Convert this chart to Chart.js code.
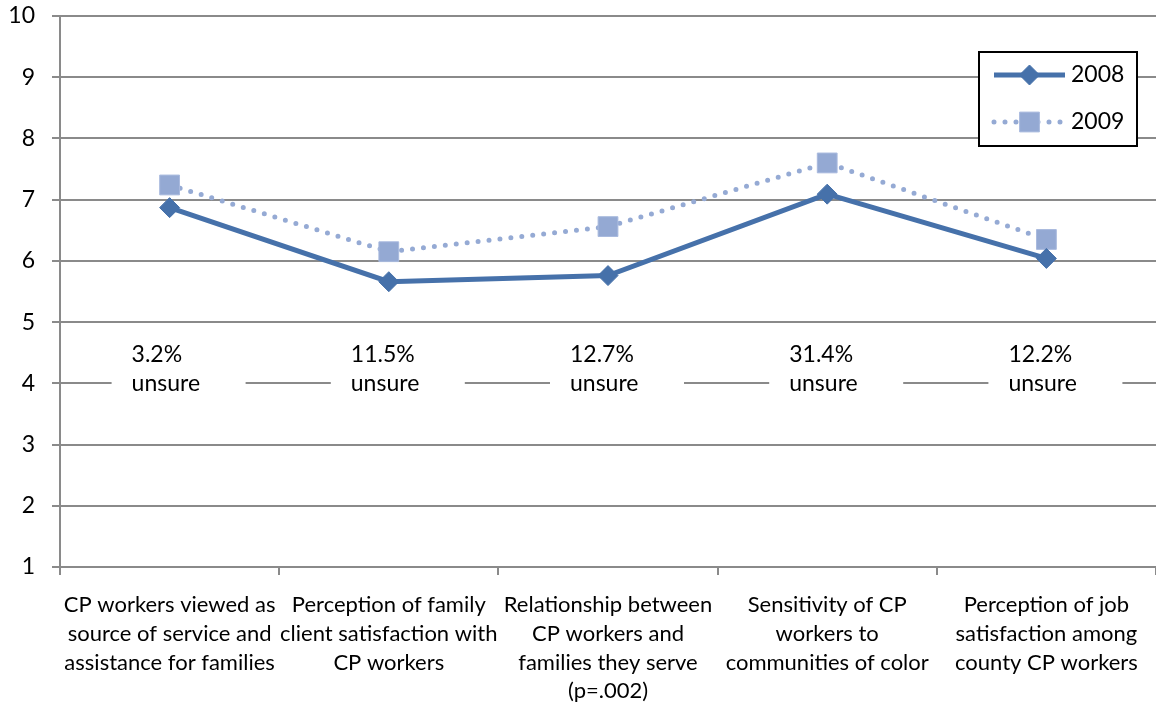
<!DOCTYPE html>
<html>
<head>
<meta charset="utf-8">
<script src="https://cdn.jsdelivr.net/npm/chart.js@4"></script>
<style>
html, body { margin: 0; padding: 0; background: #fff; }
</style>
</head>
<body>
<canvas id="chart" width="1156" height="706"></canvas>
<script>
// Chart data
const categories = [
    ["CP workers viewed as", "source of service and", "assistance for families"],
    ["Perception of family", "client satisfaction with", "CP workers"],
    ["Relationship between", "CP workers and", "families they serve", "(p=.002)"],
    ["Sensitivity of CP", "workers to", "communities of color"],
    ["Perception of job", "satisfaction among", "county CP workers"]
];
const seriesNames = ["2008", "2009"];
const values2008 = [6.87, 5.66, 5.76, 7.09, 6.04];
const values2009 = [7.24, 6.15, 6.56, 7.60, 6.35];
const unsurePct = ["3.2%", "11.5%", "12.7%", "31.4%", "12.2%"];
const unsureText = "unsure";
const yMin = 1, yMax = 10;

const fontName = "Lato, 'Open Sans', sans-serif";
const gridColor = "#8a8a8a";
const color2008 = "#4671aa";
const color2009 = "#95aad4";

// Draws the "x% unsure" notes on the 4 gridline, with white boxes behind
const unsurePlugin = {
    id: "unsure",
    beforeDatasetsDraw(chart) {
        let ctx = chart.ctx;
        let x = chart.scales.x;
        let y = chart.scales.y;
        let yMid = y.getPixelForValue(4);
        ctx.save();
        ctx.font = "23px " + fontName;
        ctx.textBaseline = "middle";
        ctx.textAlign = "left";
        unsurePct.forEach((pct, i) => {
            let left = x.getPixelForValue(i) - 38;
            ctx.fillStyle = "#fff";
            ctx.fillRect(left - 20, yMid - 46, 134, 62);
            ctx.fillStyle = "#000";
            ctx.fillText(pct, left, yMid - 29);
            ctx.fillText(unsureText, left, yMid);
        });
        ctx.restore();
    }
};

// Legend box with line sample and marker, like the original
const legendPlugin = {
    id: "boxLegend",
    afterDraw(chart) {
        let ctx = chart.ctx;
        let area = chart.chartArea;
        let w = 158, h = 94;
        let bx = area.right - 19 - w;
        let by = area.top + 36;
        ctx.save();
        ctx.fillStyle = "#fff";
        ctx.fillRect(bx, by, w, h);
        ctx.strokeStyle = "#000";
        ctx.lineWidth = 2;
        ctx.strokeRect(bx, by, w, h);

        chart.data.datasets.forEach((ds, i) => {
            let cy = by + 23 + i * 47;
            let x0 = bx + 15, x1 = bx + 86;
            let cx = (x0 + x1) / 2;
            ctx.save();
            ctx.strokeStyle = ds.borderColor;
            ctx.lineWidth = ds.borderWidth;
            ctx.lineCap = ds.borderCapStyle || "butt";
            ctx.setLineDash(ds.borderDash || []);
            ctx.beginPath();
            ctx.moveTo(x0, cy);
            ctx.lineTo(x1, cy);
            ctx.stroke();
            ctx.restore();
            ctx.fillStyle = ds.pointBackgroundColor;
            ctx.strokeStyle = ds.pointBorderColor;
            ctx.lineWidth = ds.pointBorderWidth;
            ctx.beginPath();
            if (ds.pointStyle === "rectRot") {
                let r = ds.pointRadius;
                ctx.moveTo(cx - r, cy); ctx.lineTo(cx, cy - r);
                ctx.lineTo(cx + r, cy); ctx.lineTo(cx, cy + r);
            } else {
                let s = ds.pointRadius * Math.SQRT1_2;
                ctx.rect(cx - s, cy - s, 2 * s, 2 * s);
            }
            ctx.closePath();
            ctx.fill();
            ctx.stroke();
            ctx.fillStyle = "#000";
            ctx.font = "23px " + fontName;
            ctx.textBaseline = "middle";
            ctx.textAlign = "left";
            ctx.fillText(ds.label, x1 + 6, cy);
        });
        ctx.restore();
    }
};

let ctx = document.getElementById("chart").getContext("2d");
let lineChart = new Chart(ctx, {
    type: "line",
    data: {
        labels: categories,
        datasets: [{
            label: seriesNames[0],
            data: values2008,
            borderColor: color2008,
            backgroundColor: color2008,
            borderWidth: 5,
            pointStyle: "rectRot",
            pointRadius: 10,
            pointBackgroundColor: color2008,
            pointBorderColor: color2008,
            pointBorderWidth: 1,
            tension: 0,
            order: 1
        }, {
            label: seriesNames[1],
            data: values2009,
            borderColor: color2009,
            backgroundColor: color2009,
            borderWidth: 5,
            borderDash: [0, 11],
            borderCapStyle: "round",
            pointStyle: "rect",
            pointRadius: 14,
            pointBackgroundColor: "#94a9d3",
            pointBorderColor: "#a9bade",
            pointBorderWidth: 1,
            tension: 0,
            order: 2
        }]
    },
    options: {
        responsive: false,
        animation: false,
        layout: {
            autoPadding: false,
            padding: { top: 16, right: 0, left: 0, bottom: 0 }
        },
        plugins: {
            legend: { display: false },
            title: { display: false },
            tooltip: { enabled: false }
        },
        scales: {
            x: {
                offset: true,
                grid: {
                    offset: true,
                    drawOnChartArea: false,
                    drawTicks: true,
                    tickLength: 8,
                    color: gridColor,
                    lineWidth: 2
                },
                border: { color: gridColor, width: 2 },
                ticks: {
                    color: "#000",
                    font: { family: fontName, size: 22, lineHeight: 1.3 },
                    padding: 16,
                    maxRotation: 0,
                    autoSkip: false
                },
                afterFit(scale) { scale.height = 706 - 567; }
            },
            y: {
                min: yMin,
                max: yMax,
                ticks: {
                    stepSize: 1,
                    color: "#000",
                    font: { family: fontName, size: 23 },
                    padding: 17
                },
                grid: {
                    color: gridColor,
                    lineWidth: 2,
                    tickLength: 8
                },
                border: { color: gridColor, width: 2 },
                afterFit(scale) {
                    scale.width = 60;
                    scale.paddingTop = 0;
                    scale.paddingBottom = 0;
                }
            }
        }
    },
    plugins: [unsurePlugin, legendPlugin]
});
</script>
</body>
</html>
